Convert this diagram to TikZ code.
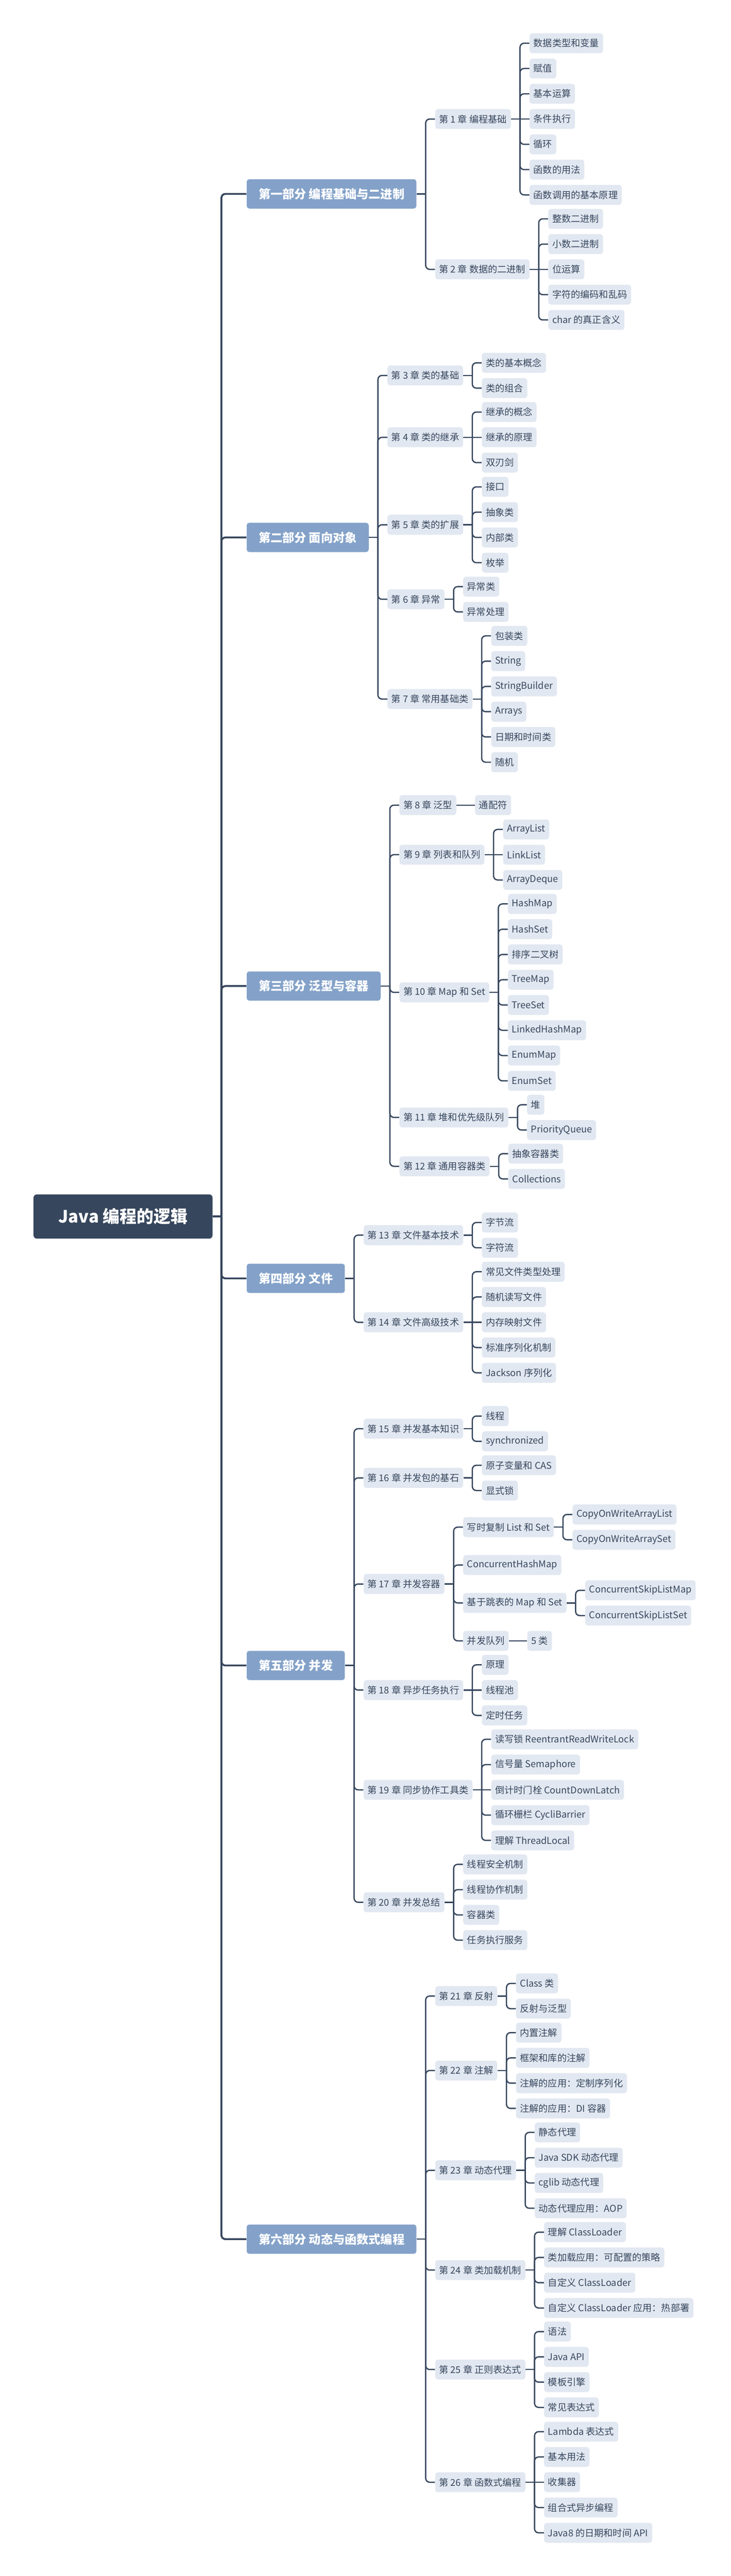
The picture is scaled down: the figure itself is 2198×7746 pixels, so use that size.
\documentclass[tikz,border=0pt]{standalone}
\usepackage{fontspec}
\setmainfont{Noto Sans CJK SC}
\usetikzlibrary{calc,positioning}
\definecolor{navy}{RGB}{54,70,93}
\definecolor{steel}{RGB}{132,162,201}
\definecolor{mist}{RGB}{226,232,241}
\tikzstyle{every node} = [
		font = \fontsize{8}{9}\selectfont,
		text = navy,
		inner sep = 0pt
	]
\tikzstyle{root} = [
		rectangle,
		rounded corners = .1cm,
		fill = navy,
		text = white,
		font = \fontsize{14.5}{16}\selectfont\bfseries,
		minimum width = 5.38cm,
		minimum height = 1.33cm
	]
\tikzstyle{part} = [
		rectangle,
		rounded corners = .08cm,
		fill = steel,
		text = white,
		font = \fontsize{10.2}{12}\selectfont\bfseries,
		minimum height = .88cm,
		inner xsep = .36cm,
		anchor = west
	]
\tikzstyle{chapter} = [
		rectangle,
		rounded corners = .08cm,
		fill = mist,
		minimum height = .6cm,
		inner xsep = .12cm,
		anchor = west
	]
\tikzstyle{topic} = [chapter]
\tikzstyle{link} = [draw = navy, line width = 1.1pt, rounded corners = .12cm]
\tikzstyle{trunk} = [link, line width = 1.6pt]

\begin{document}
\begin{tikzpicture}[x = .01cm, y = -.01cm]
	\useasboundingbox (0,0) rectangle (2198,7746);

	%------------------------------Root------------------------------
	\node [root] (java) at (370,3658) {Java 编程的逻辑};
	\draw [trunk] (java.east) -- ++(26,0) coordinate (java-j);
	\foreach \nm/\yy/\txt in {p1/583/第一部分 编程基础与二进制, p2/1616/第二部分 面向对象,
			p3/2965/第三部分 泛型与容器, p4/3844/第四部分 文件,
			p5/5008/第五部分 并发, p6/6733/第六部分 动态与函数式编程}{
		\node [part] (\nm) at (741,\yy) {\txt};
		\draw [trunk] (java-j) |- (\nm.west);
		\draw [link] (\nm.east) -- ++(27,0) coordinate (\nm-j);
	}

	%------------------------------Chapters------------------------------
	\foreach \pt/\nm/\yy/\txt in {p1/c1/358/第 1 章 编程基础, p1/c2/810/第 2 章 数据的二进制,
			p2/c3/1129/第 3 章 类的基础, p2/c4/1315/第 4 章 类的继承, p2/c5/1578/第 5 章 类的扩展,
			p2/c6/1802/第 6 章 异常, p2/c7/2102/第 7 章 常用基础类,
			p3/c8/2421/第 8 章 泛型, p3/c9/2570/第 9 章 列表和队列, p3/c10/2984/第 10 章 Map 和 Set,
			p3/c11/3360/第 11 章 堆和优先级队列, p3/c12/3507/第 12 章 通用容器类,
			p4/c13/3714/第 13 章 文件基本技术, p4/c14/3976/第 14 章 文件高级技术,
			p5/c15/4296/第 15 章 并发基本知识, p5/c16/4444/第 16 章 并发包的基石, p5/c17/4763/第 17 章 并发容器,
			p5/c18/5082/第 18 章 异步任务执行, p5/c19/5382/第 19 章 同步协作工具类, p5/c20/5720/第 20 章 并发总结,
			p6/c21/6002/第 21 章 反射, p6/c22/6226/第 22 章 注解, p6/c23/6526/第 23 章 动态代理,
			p6/c24/6826/第 24 章 类加载机制, p6/c25/7125/第 25 章 正则表达式, p6/c26/7464/第 26 章 函数式编程}{
		\node [chapter] (\nm) at ($(\pt.east |- 0,\yy)+(55,0)$) {\txt};
		\draw [link] (\pt-j) |- (\nm.west);
		\draw [link] (\nm.east) -- ++(27,0) coordinate (\nm-j);
	}

	%------------------------------Topics------------------------------
	\foreach \nm/\mid/\gap/\list in {
			c1/4/76/{数据类型和变量, 赋值, 基本运算, 条件执行, 循环, 函数的用法, 函数调用的基本原理},
			c2/3/76/{整数二进制, 小数二进制, 位运算, 字符的编码和乱码, char 的真正含义},
			c3/1.5/76/{类的基本概念, 类的组合},
			c4/2/76/{继承的概念, 继承的原理, 双刃剑},
			c5/2.5/76/{接口, 抽象类, 内部类, 枚举},
			c6/1.5/76/{异常类, 异常处理},
			c7/3.5/76/{包装类, String, StringBuilder, Arrays, 日期和时间类, 随机},
			c8/1/76/{通配符},
			c9/2/76/{ArrayList, LinkList, ArrayDeque},
			c10/4.5/76/{HashMap, HashSet, 排序二叉树, TreeMap, TreeSet, LinkedHashMap, EnumMap, EnumSet},
			c11/1.5/76/{堆, PriorityQueue},
			c12/1.5/76/{抽象容器类, Collections},
			c13/1.5/76/{字节流, 字符流},
			c14/3/76/{常见文件类型处理, 随机读写文件, 内存映射文件, 标准序列化机制, Jackson 序列化},
			c15/1.5/76/{线程, synchronized},
			c16/1.5/76/{原子变量和 CAS, 显式锁},
			c17/2.5/114/{写时复制 List 和 Set, ConcurrentHashMap, 基于跳表的 Map 和 Set, 并发队列},
			c18/2/76/{原理, 线程池, 定时任务},
			c19/3/76/{读写锁 ReentrantReadWriteLock, 信号量 Semaphore, 倒计时门栓 CountDownLatch,
				循环栅栏 CycliBarrier, 理解 ThreadLocal},
			c20/2.5/76/{线程安全机制, 线程协作机制, 容器类, 任务执行服务},
			c21/1.5/76/{Class 类, 反射与泛型},
			c22/2.5/76/{内置注解, 框架和库的注解, 注解的应用：定制序列化, 注解的应用：DI 容器},
			c23/2.5/76/{静态代理, Java SDK 动态代理, cglib 动态代理, 动态代理应用：AOP},
			c24/2.5/76/{理解 ClassLoader, 类加载应用：可配置的策略, 自定义 ClassLoader,
				自定义 ClassLoader 应用：热部署},
			c25/2.5/76/{语法, Java API, 模板引擎, 常见表达式},
			c26/3/76/{Lambda 表达式, 基本用法, 收集器, 组合式异步编程, Java8 的日期和时间 API}}{
		\foreach \txt [count=\i] in \list {
			\node [topic] (\nm-\i) at ($(\nm.east)+(55,{\gap*(\i-\mid)})$) {\txt};
			\ifdim \i pt = \mid pt
				\draw [link] (\nm-j) -- (\nm-\i.west);
			\else
				\draw [link] (\nm-j) |- (\nm-\i.west);
			\fi
		}
	}

	% third level under chapter 17
	\foreach \nm/\mid/\list in {c17-1/1.5/{CopyOnWriteArrayList, CopyOnWriteArraySet},
			c17-3/1.5/{ConcurrentSkipListMap, ConcurrentSkipListSet}, c17-4/1/{5 类}}{
		\draw [link] (\nm.east) -- ++(27,0) coordinate (\nm-j);
		\foreach \txt [count=\i] in \list {
			\node [topic] (\nm-\i) at ($(\nm.east)+(55,{76*(\i-\mid)})$) {\txt};
			\ifdim \i pt = \mid pt
				\draw [link] (\nm-j) -- (\nm-\i.west);
			\else
				\draw [link] (\nm-j) |- (\nm-\i.west);
			\fi
		}
	}

\end{tikzpicture}
\end{document}
